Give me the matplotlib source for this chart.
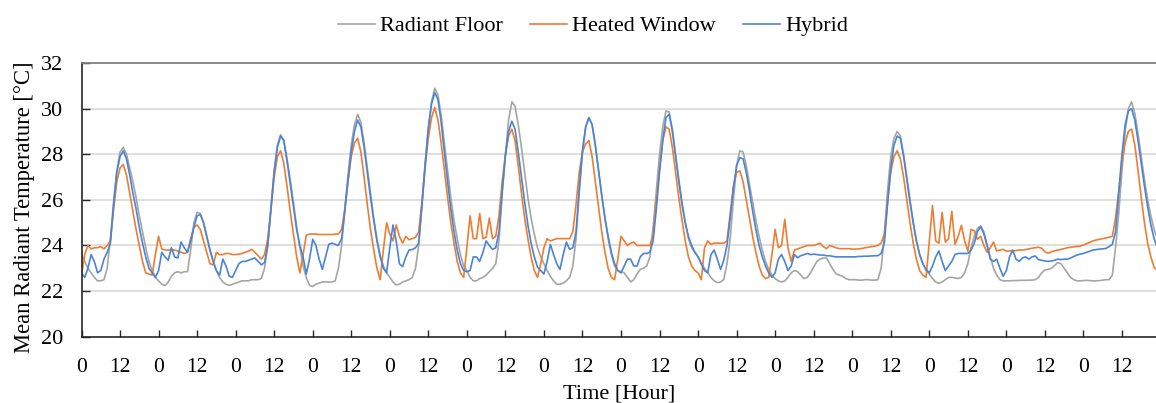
import numpy as np
import matplotlib
matplotlib.use("Agg")
import matplotlib.pyplot as plt

plt.rcParams['font.family'] = ['Liberation Serif', 'DejaVu Serif']

# hourly mean radiant temperature, one row per day (14 days)
radiant_floor = [
    23.6, 23.3, 23.0, 22.8, 22.6, 22.45, 22.45, 22.5, 23.0, 24.3, 25.9, 27.3, 28.1, 28.3, 28.0, 27.4, 26.8, 26.1, 25.3, 24.6, 23.9, 23.3, 22.9, 22.6,
    22.45, 22.3, 22.25, 22.4, 22.65, 22.8, 22.85, 22.8, 22.85, 22.85, 23.8, 25.0, 25.45, 25.4, 25.0, 24.4, 23.8, 23.3, 22.9, 22.6, 22.4, 22.3, 22.25, 22.3,
    22.35, 22.4, 22.45, 22.45, 22.45, 22.5, 22.5, 22.5, 22.55, 23.0, 24.0, 25.7, 27.3, 28.4, 28.85, 28.6, 27.8, 26.9, 25.9, 24.8, 23.9, 23.1, 22.6, 22.25,
    22.2, 22.3, 22.35, 22.4, 22.4, 22.4, 22.4, 22.45, 23.0, 24.0, 25.6, 27.1, 28.4, 29.3, 29.75, 29.4, 28.5, 27.4, 26.3, 25.2, 24.3, 23.6, 23.1, 22.8,
    22.6, 22.4, 22.27, 22.3, 22.4, 22.45, 22.5, 22.6, 23.0, 24.0, 25.8, 27.6, 29.2, 30.3, 30.9, 30.6, 29.7, 28.5, 27.3, 26.1, 25.1, 24.3, 23.6, 23.1,
    22.9, 22.6, 22.45, 22.45, 22.55, 22.6, 22.7, 22.85, 23.0, 23.2, 24.2, 26.2, 28.0, 29.5, 30.3, 30.1, 29.3, 28.3, 27.2, 26.1, 25.2, 24.5, 23.9, 23.5,
    23.2, 22.9, 22.65, 22.45, 22.3, 22.3, 22.35, 22.45, 22.6, 23.1, 24.3, 26.3, 28.0, 29.2, 29.6, 29.3, 28.4, 27.3, 26.2, 25.2, 24.3, 23.6, 23.1, 22.9,
    22.85, 22.8, 22.6, 22.4, 22.5, 22.75, 22.95, 23.0, 23.1, 23.5, 24.8, 26.4, 28.0, 29.2, 29.9, 29.85, 29.1, 28.0, 26.9, 25.9, 25.0, 24.3, 23.9, 23.7,
    23.5, 23.2, 23.0, 22.8, 22.6, 22.45, 22.37, 22.4, 22.5, 23.2, 24.3, 26.0, 27.5, 28.15, 28.1, 27.5, 26.7, 25.9, 25.1, 24.4, 23.8, 23.3, 22.95, 22.7,
    22.55, 22.45, 22.4, 22.45, 22.6, 22.8, 22.9, 22.85, 22.7, 22.55, 22.6, 22.8, 23.05, 23.3, 23.4, 23.45, 23.45, 23.2, 22.95, 22.75, 22.7, 22.65, 22.55, 22.5,
    22.5, 22.5, 22.48, 22.48, 22.5, 22.5, 22.48, 22.48, 22.5, 23.0, 24.4, 26.4, 27.9, 28.7, 29.0, 28.8, 28.0, 27.0, 26.0, 25.0, 24.2, 23.6, 23.2, 22.9,
    22.75, 22.55, 22.4, 22.34, 22.4, 22.5, 22.6, 22.6, 22.58, 22.55, 22.6, 22.8, 23.2, 23.9, 24.4, 24.75, 24.85, 24.6, 24.0, 23.5, 23.0, 22.7, 22.5, 22.45,
    22.45, 22.45, 22.46, 22.46, 22.47, 22.47, 22.47, 22.48, 22.48, 22.5, 22.6, 22.8, 22.92, 22.95, 23.0, 23.12, 23.25, 23.2, 23.0, 22.8, 22.6, 22.5, 22.45, 22.45,
    22.46, 22.47, 22.46, 22.45, 22.45, 22.46, 22.48, 22.5, 22.5, 22.7, 23.9, 25.4, 27.3, 29.0, 30.0, 30.3, 29.8, 28.9, 27.9, 26.9, 26.0, 25.3, 24.7, 24.3,
]

heated_window = [
    22.7, 23.6, 24.0, 23.85, 23.9, 23.9, 23.95, 23.85, 24.0, 24.2, 25.6, 26.8, 27.4, 27.55, 27.1, 26.3, 25.5, 24.7, 24.0, 23.3, 22.8, 22.75, 22.7, 23.6,
    24.4, 23.85, 23.8, 23.8, 23.8, 23.8, 23.75, 23.7, 23.65, 23.7, 24.3, 24.8, 24.9, 24.7, 24.2, 23.7, 23.2, 23.15, 23.7, 23.6, 23.6, 23.65, 23.65, 23.6,
    23.6, 23.62, 23.65, 23.7, 23.75, 23.83, 23.7, 23.55, 23.4, 23.6, 24.3, 25.6, 27.0, 27.9, 28.15, 27.6, 26.6, 25.5, 24.5, 23.5, 22.8, 23.6, 24.45, 24.5,
    24.5, 24.5, 24.48, 24.48, 24.48, 24.48, 24.48, 24.5, 24.5, 24.7, 25.6, 26.8, 27.9, 28.5, 28.7, 28.1, 27.0, 25.8, 24.7, 23.8, 23.0, 22.5, 23.8, 25.0,
    24.5, 24.2, 24.9, 24.4, 24.1, 24.4, 24.25, 24.3, 24.35, 24.6, 25.9, 27.4, 28.7, 29.6, 30.05, 29.5, 28.5, 27.3, 26.1, 25.0, 24.1, 23.3, 22.8, 22.6,
    23.9, 25.3, 24.3, 24.3, 25.4, 24.3, 24.35, 25.2, 24.3, 24.4, 25.3, 26.8, 28.0, 28.8, 29.1, 28.6, 27.5, 26.3, 25.2, 24.3, 23.5, 22.9, 22.6, 23.2,
    23.9, 24.3, 24.2, 24.25, 24.3, 24.3, 24.3, 24.3, 24.3, 24.6, 25.8, 27.2, 28.1, 28.45, 28.6, 27.9, 26.8, 25.7, 24.6, 23.7, 23.0, 22.6, 22.5, 23.4,
    24.4, 24.2, 24.0, 24.1, 24.15, 24.0, 24.0, 24.0, 24.0, 24.0, 24.5, 25.9, 27.4, 28.6, 29.2, 29.1, 28.3, 27.2, 26.1, 25.1, 24.2, 23.5, 23.1, 22.9,
    22.8, 22.5, 23.9, 24.2, 24.05, 24.1, 24.1, 24.1, 24.1, 24.2, 25.4, 26.6, 27.2, 27.27, 26.8, 26.0, 25.2, 24.4, 23.7, 23.1, 22.7, 22.55, 22.6, 23.6,
    24.7, 23.9, 24.0, 25.15, 23.9, 23.3, 23.8, 23.85, 23.9, 23.95, 24.0, 24.0, 24.0, 24.05, 24.1, 23.95, 23.86, 24.0, 23.95, 23.9, 23.86, 23.86, 23.86, 23.86,
    23.84, 23.84, 23.85, 23.87, 23.9, 23.92, 23.95, 23.97, 24.0, 24.1, 24.5, 25.9, 27.2, 27.9, 28.15, 27.8, 27.0, 26.0, 25.0, 24.1, 23.4, 22.9, 22.7, 22.6,
    24.2, 25.75, 24.2, 24.1, 25.45, 24.15, 24.3, 25.5, 24.05, 24.4, 24.88, 24.2, 23.76, 24.7, 24.65, 24.27, 24.4, 24.0, 23.7, 23.9, 24.15, 23.76, 23.8, 23.83,
    23.75, 23.76, 23.76, 23.78, 23.8, 23.8, 23.82, 23.85, 23.88, 23.9, 23.92, 23.88, 23.72, 23.66, 23.72, 23.76, 23.8, 23.83, 23.86, 23.9, 23.92, 23.94, 23.96, 23.97,
    24.02, 24.08, 24.14, 24.2, 24.24, 24.27, 24.3, 24.33, 24.36, 24.4, 25.2, 26.4, 27.6, 28.5, 29.0, 29.1, 28.4, 27.3, 26.1, 25.0, 24.1, 23.5, 23.05, 22.9,
]

hybrid = [
    22.8, 22.6, 23.0, 23.6, 23.3, 22.8, 22.9, 23.4, 23.7, 24.1, 25.8, 27.2, 27.9, 28.15, 27.8, 27.1, 26.3, 25.6, 24.8, 24.1, 23.5, 23.0, 22.8, 22.6,
    22.9, 23.7, 23.5, 23.35, 23.9, 23.5, 23.45, 24.15, 23.9, 23.7, 24.2, 24.8, 25.3, 25.35, 25.0, 24.4, 23.8, 23.3, 22.9, 22.7, 23.4, 23.1, 22.65, 22.6,
    22.9, 23.2, 23.3, 23.3, 23.35, 23.4, 23.45, 23.3, 23.15, 23.25, 24.0, 25.6, 27.2, 28.3, 28.8, 28.6, 27.7, 26.7, 25.7, 24.7, 24.0, 23.5, 22.75, 23.4,
    24.27, 24.0, 23.4, 22.95, 23.5, 24.05, 24.1, 24.05, 24.0, 24.3, 25.5, 26.9, 28.1, 29.0, 29.5, 29.2, 28.3, 27.2, 26.1, 25.1, 24.2, 23.5, 23.0, 22.8,
    23.9, 24.9, 24.2, 23.2, 23.07, 23.5, 23.8, 23.82, 23.9, 24.1, 25.7, 27.5, 29.1, 30.2, 30.7, 30.4, 29.4, 28.1, 26.8, 25.6, 24.6, 23.8, 23.2, 22.9,
    22.85, 22.9, 23.5, 23.5, 23.3, 23.7, 24.2, 24.0, 23.83, 23.9, 24.6, 26.4, 27.9, 29.0, 29.45, 29.1, 28.1, 27.0, 25.9, 24.9, 24.1, 23.5, 23.05, 22.9,
    22.75, 23.3, 24.05, 23.6, 23.2, 22.95, 23.6, 24.15, 23.83, 23.9, 24.6, 26.5, 28.2, 29.2, 29.6, 29.3, 28.4, 27.3, 26.2, 25.2, 24.4, 23.7, 23.2, 22.9,
    22.8, 23.1, 23.4, 23.4, 23.1, 23.1, 23.5, 23.65, 23.65, 23.7, 24.2, 25.6, 27.2, 28.6, 29.6, 29.75, 29.0, 27.9, 26.8, 25.8, 25.0, 24.4, 24.0, 23.7,
    23.5, 23.2, 22.9, 22.8, 23.6, 23.8, 23.4, 22.95, 23.35, 24.0, 25.2, 26.5, 27.5, 27.85, 27.8, 27.2, 26.4, 25.5, 24.7, 24.0, 23.5, 23.1, 22.8, 22.6,
    22.8, 23.4, 23.6, 23.3, 22.9, 23.1, 23.6, 23.46, 23.55, 23.6, 23.65, 23.6, 23.62, 23.6, 23.58, 23.58, 23.55, 23.55, 23.52, 23.5, 23.5, 23.5, 23.5, 23.5,
    23.5, 23.5, 23.52, 23.52, 23.53, 23.53, 23.54, 23.55, 23.55, 23.65, 24.1, 25.8, 27.4, 28.4, 28.8, 28.7, 27.9, 26.9, 25.9, 25.0, 24.2, 23.6, 23.2, 22.95,
    22.8, 23.1, 23.5, 23.76, 23.3, 22.9, 23.1, 23.3, 23.6, 23.65, 23.65, 23.65, 23.65, 23.8, 24.1, 24.6, 24.83, 24.5, 24.0, 23.4, 23.3, 23.4, 23.0, 22.65,
    22.9, 23.5, 23.8, 23.4, 23.3, 23.45, 23.5, 23.4, 23.5, 23.54, 23.38, 23.35, 23.32, 23.3, 23.32, 23.35, 23.4, 23.38, 23.4, 23.4, 23.45, 23.52, 23.58, 23.62,
    23.65, 23.7, 23.75, 23.8, 23.82, 23.84, 23.85, 23.87, 23.95, 24.05, 24.6, 26.3, 28.0, 29.3, 29.9, 30.0, 29.5, 28.6, 27.6, 26.6, 25.7, 24.9, 24.3, 23.9,
]

series_names = ["Radiant Floor", "Heated Window", "Hybrid"]
series_colors = ["#a5a5a5", "#ed7d31", "#4a84d6"]

hours = np.arange(len(radiant_floor))
tick_hours = np.arange(0, 336, 12)
tick_labels = [str(h % 24) for h in tick_hours]

W, H = 1156, 403
fig = plt.figure(figsize=(W / 100, H / 100), dpi=100)
left, right, top, bottom = 81.5, 1156, 63, 336.7
ax = fig.add_axes([left / W, 1 - bottom / H, (right - left) / W, (bottom - top) / H])

for values, name, color in zip([radiant_floor, heated_window, hybrid], series_names, series_colors):
    ax.plot(hours, values, color=color, lw=1.2, label=name)

ax.set_xlim(0, 334.6)
ax.set_ylim(20, 32)
ax.set_yticks(range(20, 33, 2))
ax.set_xticks(tick_hours)
ax.set_xticklabels(tick_labels)

for y in range(22, 32, 2):
    ax.axhline(y, color="#d9d9d9", lw=1.2, zorder=0)

ax.spines['right'].set_visible(False)
ax.spines['top'].set_color("#7f7f7f")
ax.spines['top'].set_linewidth(1.3)
for s in ['left', 'bottom']:
    ax.spines[s].set_color("#262626")
    ax.spines[s].set_linewidth(1.2)

ax.tick_params(axis='x', direction='in', length=5, width=1, color="#262626", labelsize=15.5, pad=15.5)
ax.tick_params(axis='y', direction='in', length=6, width=1, color="#262626", labelsize=16, pad=13)

ax.set_xlabel("Time [Hour]", fontsize=16, labelpad=5.5)
ax.set_ylabel("Mean Radiant Temperature [°C]", fontsize=16.3)
ax.yaxis.set_label_coords(-0.0435, 0.472)

fig.legend(loc='center', bbox_to_anchor=(0.513, 0.935), ncol=3, frameon=False, fontsize=16,
           handlelength=1.65, handletextpad=0.22, columnspacing=1.25)

fig.savefig("out.png", dpi=100)
